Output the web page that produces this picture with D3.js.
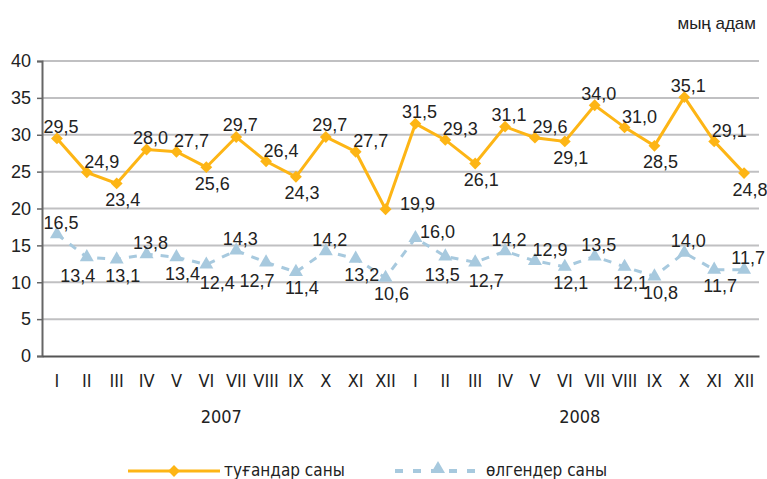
<!DOCTYPE html>
<html>
<head>
<meta charset="utf-8">
<script src="https://cdn.jsdelivr.net/npm/d3@7"></script>
<style>
  body { margin: 0; background: #fff; }
  svg text { font-family: "Liberation Sans", Arial, sans-serif; fill: #222; }
  .narrow { font-family: "Liberation Sans Narrow", "DejaVu Sans Condensed", "Liberation Sans", sans-serif; font-stretch: condensed; }
</style>
</head>
<body>
<div id="chart"></div>
<script>
// Chart data
var months = ["I", "II", "III", "IV", "V", "VI", "VII", "VIII", "IX", "X", "XI", "XII"];
var years = ["2007", "2008"];
var births = [29.5, 24.9, 23.4, 28.0, 27.7, 25.6, 29.7, 26.4, 24.3, 29.7, 27.7, 19.9,
              31.5, 29.3, 26.1, 31.1, 29.6, 29.1, 34.0, 31.0, 28.5, 35.1, 29.1, 24.8];
var deaths = [16.5, 13.4, 13.1, 13.8, 13.4, 12.4, 14.3, 12.7, 11.4, 14.2, 13.2, 10.6,
              16.0, 13.5, 12.7, 14.2, 12.9, 12.1, 13.5, 12.1, 10.8, 14.0, 11.7, 11.7];
var yTicks = [0, 5, 10, 15, 20, 25, 30, 35, 40];
var seriesNames = ["туғандар саны", "өлгендер саны"];
var unitLabel = "мың адам";

// where each value label sits relative to its point
var birthsPlace = ["a", "ar", "b", "a", "ar", "b", "a", "ar", "b", "a", "ar", "r",
                   "a", "ar", "b", "a", "ar", "b", "a", "ar", "b", "a", "ar", "b"];
var deathsPlace = ["a", "bl", "b", "a", "b", "br", "a", "bl", "b", "a", "b", "b",
                   "r2", "bc", "br", "a", "ar", "b", "a", "b", "b", "a", "b", "a"];
var placeOffset = {
  a: [4, -12], ar: [15, -11], b: [6, 16], bc: [-3, 18], bl: [-9, 18], br: [11, 18],
  r: [32, -6], r2: [22, -6]
};

var svgWidth = 767;
var svgHeight = 479;
var margin = { top: 61, right: 8, bottom: 123, left: 42 };
var chartWidth = svgWidth - margin.left - margin.right;
var chartHeight = svgHeight - margin.top - margin.bottom;

var birthColor = "#fdb515";
var deathColor = "#a7c9de";

var svg = d3.select("#chart")
  .append("svg")
  .attr("width", svgWidth)
  .attr("height", svgHeight);

var chartGroup = svg.append("g")
  .attr("transform", `translate(${margin.left}, ${margin.top})`);

// all 24 months
var labels = [];
years.forEach(function(yr) {
  months.forEach(function(m) { labels.push(yr + "-" + m); });
});

var xScale = d3.scaleBand()
  .domain(labels)
  .range([0, chartWidth]);

var yScale = d3.scaleLinear()
  .domain([0, 40])
  .range([chartHeight, 0]);

var cx = d => xScale(d) + xScale.bandwidth() / 2;

// gridlines
chartGroup.append("g")
  .selectAll("line")
  .data(yTicks.filter(t => t > 0))
  .enter()
  .append("line")
  .attr("x1", 0)
  .attr("x2", chartWidth)
  .attr("y1", d => yScale(d))
  .attr("y2", d => yScale(d))
  .attr("stroke", "#c0c0c2")
  .attr("stroke-width", 2);

// y axis
var leftAxis = d3.axisLeft(yScale).tickValues(yTicks).tickSize(5).tickPadding(6);
var yAxis = chartGroup.append("g").call(leftAxis);
yAxis.select(".domain").attr("stroke", "#666").attr("stroke-width", 2);
yAxis.selectAll(".tick line").attr("stroke", "#666").attr("stroke-width", 1.5);
yAxis.selectAll("text").attr("font-size", "18px").attr("fill", "#222")
  .style("font-family", "Liberation Sans, Arial, sans-serif");

// x axis
var bottomAxis = d3.axisBottom(xScale).tickSize(0).tickPadding(18)
  .tickFormat(d => d.split("-")[1]);
var xAxis = chartGroup.append("g")
  .attr("transform", `translate(0, ${chartHeight})`)
  .call(bottomAxis);
xAxis.select(".domain").attr("stroke", "#555").attr("stroke-width", 2);
xAxis.selectAll("text").attr("font-size", "18px").attr("fill", "#222")
  .attr("class", "narrow");

// year labels
chartGroup.selectAll(".year")
  .data(years)
  .enter()
  .append("text")
  .attr("class", "year narrow")
  .attr("text-anchor", "middle")
  .attr("font-size", "18px")
  .attr("x", function(yr) {
    return (cx(yr + "-I") + cx(yr + "-XII")) / 2;
  })
  .attr("y", chartHeight + 67)
  .text(d => d);

// deaths line
var line = d3.line()
  .x((d, i) => cx(labels[i]))
  .y(d => yScale(d));

chartGroup.append("path")
  .datum(deaths)
  .attr("fill", "none")
  .attr("stroke", deathColor)
  .attr("stroke-width", 3)
  .attr("stroke-dasharray", "8,8")
  .attr("d", line);

var triangle = d3.symbol().type(d3.symbolTriangle).size(85);
chartGroup.selectAll(".tri")
  .data(deaths)
  .enter()
  .append("path")
  .attr("class", "tri")
  .attr("d", triangle)
  .attr("fill", deathColor)
  .attr("transform", (d, i) => `translate(${cx(labels[i])}, ${yScale(d)})`);

// births line
chartGroup.append("path")
  .datum(births)
  .attr("fill", "none")
  .attr("stroke", birthColor)
  .attr("stroke-width", 3)
  .attr("d", line);

var diamond = d3.symbol().type(d3.symbolSquare).size(70);
chartGroup.selectAll(".dia")
  .data(births)
  .enter()
  .append("path")
  .attr("class", "dia")
  .attr("d", diamond)
  .attr("fill", birthColor)
  .attr("transform", (d, i) => `translate(${cx(labels[i])}, ${yScale(d)}) rotate(45)`);

// value labels
var fmt = d => d.toFixed(1).replace(".", ",");

function addLabels(values, places, cls) {
  chartGroup.selectAll("." + cls)
    .data(values)
    .enter()
    .append("text")
    .attr("class", cls)
    .attr("text-anchor", "middle")
    .attr("font-size", "18px")
    .attr("x", (d, i) => cx(labels[i]) + placeOffset[places[i]][0])
    .attr("y", (d, i) => yScale(d) + placeOffset[places[i]][1])
    .attr("dy", "0.36em")
    .text(fmt);
}
addLabels(births, birthsPlace, "blab");
addLabels(deaths, deathsPlace, "dlab");

// unit label
svg.append("text")
  .attr("x", 756)
  .attr("y", 29)
  .attr("text-anchor", "end")
  .attr("font-size", "17px")
  .text(unitLabel);

// legend
var legend = svg.append("g").attr("transform", "translate(0, 471)");

legend.append("line")
  .attr("x1", 128).attr("x2", 220)
  .attr("stroke", birthColor).attr("stroke-width", 3);
legend.append("path")
  .attr("d", diamond)
  .attr("fill", birthColor)
  .attr("transform", "translate(174, 0) rotate(45)");
legend.append("text")
  .attr("class", "narrow")
  .attr("x", 224).attr("dy", "0.3em")
  .attr("font-size", "17px")
  .text(seriesNames[0]);

legend.append("line")
  .attr("x1", 395).attr("x2", 482)
  .attr("stroke", deathColor).attr("stroke-width", 4)
  .attr("stroke-dasharray", "8,10");
legend.append("path")
  .attr("d", triangle)
  .attr("fill", deathColor)
  .attr("transform", "translate(438, -2)");
legend.append("text")
  .attr("class", "narrow")
  .attr("x", 486).attr("dy", "0.3em")
  .attr("font-size", "17px")
  .text(seriesNames[1]);
</script>
</body>
</html>
